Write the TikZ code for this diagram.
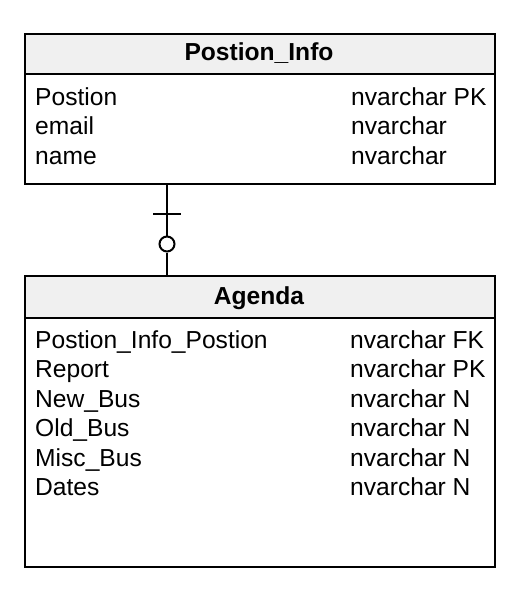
\documentclass[tikz,border=0pt]{standalone}
\usepackage{fontspec}
\setmainfont{Liberation Sans}
\begin{document}
\begin{tikzpicture}[x=1pt,y=-1pt,
  entbox/.style={draw=black,line width=2pt,minimum width=470pt,inner sep=0pt,anchor=north west},
  enthead/.style={draw=black,line width=2pt,fill=black!6,minimum width=470pt,inner sep=0pt,anchor=north west},
  txt/.style={anchor=base west,inner sep=0pt,font=\fontsize{24.6}{29}\selectfont},
  htxt/.style={anchor=base,inner sep=0pt,font=\fontsize{24.6}{29}\selectfont\bfseries},
  conn/.style={draw=black,line width=2pt}]
\useasboundingbox (0,0) rectangle (526,590);
% Postion_Info
\node[entbox,minimum height=150pt] (pi) at (24,33) {};
\node[enthead,minimum height=40pt] (pih) at (24,33) {};
\node[htxt] (pit) at (259,60) {Postion\_Info};
\node[txt] (p1) at (35,105) {Postion};
\node[txt] (p2) at (35,134) {email};
\node[txt] (p3) at (35,164) {name};
\node[txt] (q1) at (351,105) {nvarchar PK};
\node[txt] (q2) at (351,134) {nvarchar};
\node[txt] (q3) at (351,164) {nvarchar};
% Agenda
\node[entbox,minimum height=291pt] (ag) at (24,275) {};
\node[enthead,minimum height=42pt] (agh) at (24,275) {};
\node[htxt] (agt) at (259,304) {Agenda};
\node[txt] (a1) at (35,348) {Postion\_Info\_Postion};
\node[txt] (a2) at (35,377) {Report};
\node[txt] (a3) at (35,407) {New\_Bus};
\node[txt] (a4) at (35,436) {Old\_Bus};
\node[txt] (a5) at (35,466) {Misc\_Bus};
\node[txt] (a6) at (35,495) {Dates};
\node[txt] (b1) at (350,348) {nvarchar FK};
\node[txt] (b2) at (350,377) {nvarchar PK};
\node[txt] (b3) at (350,407) {nvarchar N};
\node[txt] (b4) at (350,436) {nvarchar N};
\node[txt] (b5) at (350,466) {nvarchar N};
\node[txt] (b6) at (350,495) {nvarchar N};
% connector
\coordinate (cx) at (167,0);
\node[draw=black,line width=2pt,fill=white,circle,minimum size=15pt,inner sep=0pt] (oc) at (167,244) {};
\draw[conn] (pi.south -| cx) -- (oc.north);
\draw[conn] (oc.south) -- (ag.north -| cx);
\coordinate (barl) at (153,214);
\coordinate (barr) at (181,214);
\draw[conn] (barl) -- (barr);
\end{tikzpicture}
\end{document}
